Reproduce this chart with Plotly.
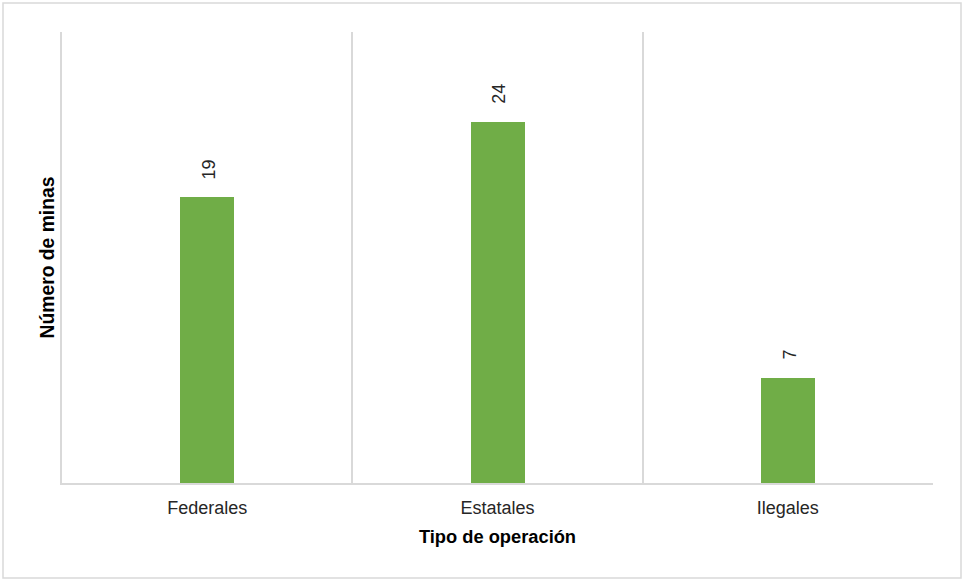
import plotly.graph_objects as go

categories = ["Federales", "Estatales", "Ilegales"]
values = [19, 24, 7]
x_title = "Tipo de operación"
y_title = "Número de minas"

W, H = 963, 580
ml, mr, mt, mb = 62, 30, 32, 97
pw, ph = W - ml - mr, H - mt - mb

grid = "#D9D9D9"
font_family = "Liberation Sans, Arial, sans-serif"

fig = go.Figure()
fig.add_trace(go.Bar(
    x=categories, y=values,
    marker=dict(color="#70AD47", line=dict(width=0)),
    width=0.186,
    hoverinfo="x+y",
))

for c, v in zip(categories, values):
    fig.add_annotation(
        x=c, y=v, xref="x", yref="y",
        text=str(v), showarrow=False, textangle=-90,
        yanchor="bottom", xanchor="center", yshift=16, xshift=2,
        font=dict(family=font_family, size=18, color="#262626"),
    )

# outer frame
fig.add_shape(
    type="rect", xref="paper", yref="paper",
    x0=(3 - ml) / pw, x1=(961 - ml) / pw,
    y0=(H - mb - 578) / ph, y1=(H - mb - 3) / ph,
    line=dict(color=grid, width=1.5), fillcolor="rgba(0,0,0,0)", layer="below",
)

fig.update_layout(
    width=W, height=H,
    margin=dict(l=ml, r=mr, t=mt, b=mb, pad=0),
    paper_bgcolor="white", plot_bgcolor="white",
    showlegend=False,
    font=dict(family=font_family, size=18, color="#262626"),
    bargap=0,
    xaxis=dict(
        type="category", range=[-0.5, 2.5], tickson="boundaries",
        showgrid=True, gridcolor=grid, gridwidth=1.5,
        showline=True, linecolor=grid, linewidth=1.5,
        ticks="", ticklen=0, ticklabelstandoff=8,
        tickfont=dict(family=font_family, size=18, color="#262626"),
        title=dict(text=x_title, standoff=13,
                   font=dict(family=font_family, size=18.3, color="black", weight="bold")),
        fixedrange=True,
    ),
    yaxis=dict(
        range=[0, 30], showgrid=False, zeroline=False,
        showticklabels=False, ticks="",
        showline=True, linecolor=grid, linewidth=1.5,
        title=dict(text=y_title, standoff=0,
                   font=dict(family=font_family, size=19.3, color="black", weight="bold")),
        fixedrange=True,
    ),
)

fig.write_html("out.html")
